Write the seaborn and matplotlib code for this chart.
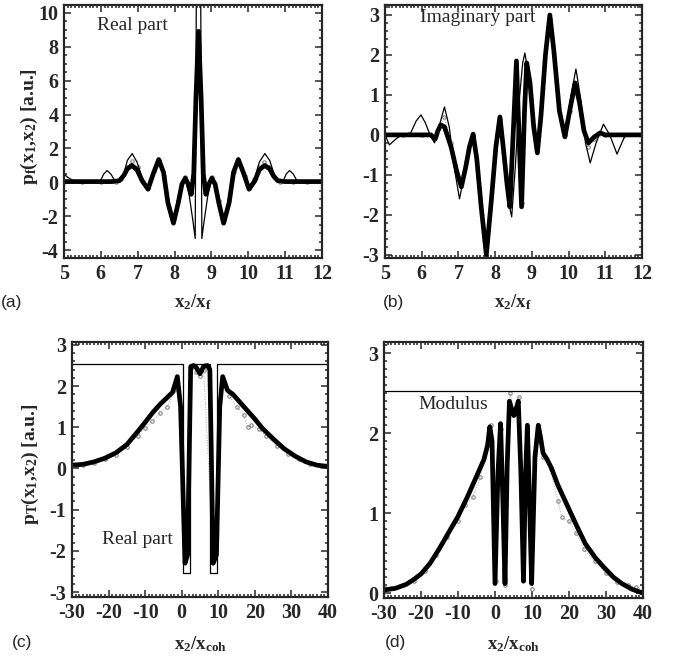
import matplotlib
matplotlib.use('Agg')
import matplotlib.pyplot as plt
import seaborn as sns
from matplotlib.ticker import AutoMinorLocator, MultipleLocator

# --- panel (a): real part, x2/xf ---
a_thick_x = [5.0, 6.3, 6.5, 6.62, 6.72, 6.84, 6.98, 7.12, 7.28, 7.42, 7.57, 7.7, 7.82, 7.97, 8.1, 8.2,
             8.29, 8.37, 8.45, 8.52, 8.58, 8.65, 8.72, 8.78, 8.85, 8.93, 9.01, 9.1, 9.2, 9.33, 9.48,
             9.6, 9.73, 9.88, 10.02, 10.18, 10.3, 10.45, 10.58, 10.68, 10.8, 11.0, 12.0]
a_thick_y = [0.05, 0.05, 0.1, 0.4, 0.8, 1.0, 0.75, 0.1, -0.4, 0.5, 1.35, 0.6, -1.2, -2.4, -1.2, -0.1,
             0.25, -0.1, -0.7, 0.5, 5.0, 8.9, 5.0, 0.5, -0.7, -0.1, 0.25, -0.1, -1.2, -2.4, -1.2,
             0.6, 1.35, 0.5, -0.4, 0.1, 0.75, 1.0, 0.8, 0.4, 0.1, 0.05, 0.05]
a_thin_x = [5.0, 5.1, 5.3, 5.9, 6.0, 6.08, 6.17, 6.27, 6.38, 6.5, 6.62, 6.72, 6.85, 6.98, 7.12, 7.28,
            7.42, 7.57, 7.7, 7.82, 7.97, 8.1, 8.2, 8.29, 8.4, 8.5, 8.56, 8.59, 8.71, 8.74, 8.8, 8.9,
            9.01, 9.1, 9.2, 9.33, 9.48, 9.6, 9.73, 9.88, 10.02, 10.18, 10.3, 10.45, 10.58, 10.7,
            10.82, 10.95, 11.03, 11.12, 11.22, 11.32, 11.45, 12.0]
a_thin_y = [0.5, 0.3, 0.05, 0.0, 0.15, 0.5, 0.7, 0.5, 0.1, 0.0, 0.5, 1.3, 1.7, 1.2, 0.3, -0.4,
            0.5, 1.4, 0.6, -1.2, -2.4, -1.2, -0.1, 0.25, -0.8, -2.3, -3.3, 10.8, 10.8, -3.3, -2.3, -0.8,
            0.25, -0.1, -1.2, -2.4, -1.2, 0.6, 1.4, 0.5, -0.4, 0.3, 1.2, 1.7, 1.3, 0.5,
            0.0, 0.1, 0.5, 0.7, 0.5, 0.1, 0.0, 0.0]
a_exp_x = [5.0, 5.5, 6.0, 6.4, 6.55, 6.7, 6.85, 7.0, 7.15, 7.28, 7.45, 7.57, 7.72, 7.85, 7.97, 8.1,
           8.28, 8.45, 8.65, 8.85, 9.02, 9.2, 9.33, 9.48, 9.6, 9.73, 9.9, 10.02, 10.15, 10.3, 10.42,
           10.55, 10.7, 10.85, 11.2, 11.6, 12.0]
a_exp_y = [0.05, 0.02, 0.05, 0.05, 0.2, 0.9, 1.25, 0.9, 0.0, -0.35, 0.7, 1.3, 0.4, -1.5, -2.3, -1.1,
           0.3, -0.6, 8.0, -0.6, 0.3, -1.1, -2.2, -1.0, 0.6, 1.3, 0.4, -0.35, 0.2, 0.9, 1.2,
           0.9, 0.3, 0.05, 0.05, 0.02, 0.05]

# --- panel (b): imaginary part, x2/xf ---
b_thick_x = [5.0, 6.25, 6.37, 6.44, 6.52, 6.62, 6.8, 6.95, 7.08, 7.2, 7.3, 7.4, 7.5, 7.62, 7.76, 7.9,
             8.02, 8.13, 8.22, 8.32, 8.4, 8.5, 8.58, 8.65, 8.72, 8.8, 8.86, 8.95, 9.05, 9.15, 9.25,
             9.37, 9.49, 9.6, 9.75, 9.9, 10.05, 10.18, 10.3, 10.42, 10.54, 10.7, 10.86, 11.0, 12.0]
b_thick_y = [0.0, 0.0, -0.1, 0.1, 0.25, 0.2, -0.3, -0.9, -1.3, -0.8, -0.3, 0.02, -0.6, -1.8, -3.0, -1.6,
             -0.3, 0.45, -0.3, -1.2, -1.8, 0.2, 1.85, 0.0, -1.8, 0.6, 1.8, 1.3, 0.2, -0.45, 0.5,
             2.0, 3.0, 2.1, 0.6, -0.05, 0.7, 1.3, 0.8, 0.1, -0.2, -0.05, 0.05, 0.0, 0.0]
b_thin_x = [5.0, 5.12, 5.3, 5.45, 5.7, 5.85, 5.98, 6.1, 6.25, 6.35, 6.5, 6.62, 6.75, 6.9, 7.03, 7.18,
            7.3, 7.4, 7.5, 7.62, 7.76, 7.9, 8.02, 8.13, 8.25, 8.35, 8.45, 8.55, 8.65, 8.75, 8.81,
            8.92, 9.05, 9.15, 9.25, 9.37, 9.49, 9.6, 9.75, 9.9, 10.05, 10.2, 10.33, 10.46, 10.59,
            10.75, 10.95, 11.12, 11.32, 11.45, 11.55, 12.0]
b_thin_y = [0.0, -0.25, -0.1, 0.0, 0.05, 0.35, 0.5, 0.3, -0.05, -0.2, 0.3, 0.7, 0.2, -0.9, -1.6, -0.9,
            -0.2, 0.0, -0.6, -1.8, -3.0, -1.6, -0.3, 0.45, -0.6, -1.6, -2.05, -0.8, 0.8, 1.8, 2.05,
            1.4, 0.2, -0.45, 0.5, 2.0, 3.0, 2.1, 0.6, -0.05, 0.9, 1.65, 0.9, -0.2, -0.7,
            -0.2, 0.27, 0.0, -0.48, -0.2, 0.0, 0.0]
b_exp_x = [5.0, 5.5, 6.0, 6.35, 6.5, 6.62, 6.8, 7.08, 7.4, 7.76, 8.13, 8.4, 8.58, 8.72, 8.86, 9.15,
           9.49, 9.9, 10.05, 10.2, 10.35, 10.54, 10.7, 11.0, 11.5, 12.0]
b_exp_y = [0.0, 0.0, 0.0, -0.05, 0.25, 0.45, -0.2, -1.2, 0.0, -2.9, 0.4, -1.7, 1.6, -1.7, 1.7, -0.4,
           2.9, 0.0, 0.6, 1.1, 0.5, -0.3, -0.1, 0.0, 0.0, 0.0]

# --- panel (c): real part, x2/xcoh ---
c_thick_x = [-30, -27, -24, -21, -18, -15, -12, -10, -8, -6, -4, -2.5, -1.2, -0.3, 0.9, 1.6, 2.45,
             3.2, 4.0, 5.0, 6.0, 7.0, 7.7, 8.6, 9.5, 10.4, 11.2, 12.5, 14, 16, 18, 20, 22, 25, 28,
             31, 34, 37, 40]
c_thick_y = [0.08, 0.1, 0.16, 0.25, 0.38, 0.58, 0.9, 1.12, 1.35, 1.55, 1.72, 1.85, 2.23, 1.5, -2.3,
             -2.1, 2.47, 2.5, 2.45, 2.3, 2.48, 2.5, 2.4, -2.3, -2.1, 1.5, 2.23, 1.9, 1.8, 1.6, 1.4,
             1.2, 0.98, 0.72, 0.48, 0.3, 0.16, 0.08, 0.05]
c_thin_x = [-30, 0.4, 0.4, 2.3, 2.3, 7.8, 7.8, 9.7, 9.7, 40]
c_thin_y = [2.53, 2.53, -2.53, -2.53, 2.53, 2.53, -2.53, -2.53, 2.53, 2.53]
c_exp_x = [-30, -27, -24, -21, -18, -15, -12, -10, -8, -6, -4, -2, -1.2, 0.9, 2.5, 4, 5, 6, 8.6,
           11.2, 13, 15, 17, 18, 19, 21, 23, 26, 29, 32, 35, 38, 40]
c_exp_y = [0.06, 0.08, 0.14, 0.22, 0.33, 0.52, 0.8, 0.98, 1.15, 1.35, 1.5, 1.9, 2.15, -2.1, 2.45,
           2.35, 2.25, 2.4, -2.1, 2.15, 1.75, 1.5, 1.3, 1.0, 1.05, 0.95, 0.8, 0.55, 0.35, 0.22, 0.12,
           0.06, 0.05]

# --- panel (d): modulus, x2/xcoh ---
d_thick_x = [-30, -27, -24, -22, -20, -17.6, -15, -12, -10, -7.5, -5, -3, -2, -1.4, -0.8, 0.0, 0.8,
             1.5, 2.1, 2.7, 3.3, 3.9, 4.5, 5.1, 5.7, 6.3, 7.0, 7.7, 8.2, 8.75, 9.3, 9.9, 10.8, 11.7,
             12.3, 13, 14, 15.3, 17, 18.5, 20, 22, 24.4, 27, 29.3, 32, 34.3, 37, 40]
d_thick_y = [0.04, 0.06, 0.11, 0.17, 0.24, 0.37, 0.56, 0.8, 0.96, 1.2, 1.46, 1.67, 1.85, 2.08, 1.9,
             0.12, 1.5, 2.12, 1.2, 0.12, 1.6, 2.4, 2.3, 2.22, 2.3, 2.4, 1.5, 0.15, 1.4, 2.1, 1.2,
             0.12, 1.7, 2.1, 1.95, 1.75, 1.68, 1.56, 1.35, 1.2, 1.05, 0.85, 0.62, 0.45, 0.33, 0.2,
             0.12, 0.05, 0.0]
d_thin_x = [-30, 40]
d_thin_y = [2.53, 2.53]
d_exp_x = [-30, -28, -25, -22, -19, -16, -13, -10, -8, -6, -4, -2, -1.2, 0.2, 1.5, 2.7, 4.0, 5.1,
           6.5, 7.7, 8.7, 10.0, 11.6, 13, 15, 17, 18, 20, 22, 24, 27, 30, 33, 36, 38, 40]
d_exp_y = [0.08, 0.06, 0.1, 0.15, 0.28, 0.48, 0.7, 0.9, 1.1, 1.2, 1.45, 1.9, 2.1, 0.15, 2.05, 0.1,
           2.5, 2.3, 2.45, 0.2, 2.0, 0.05, 2.0, 1.7, 1.55, 1.15, 0.95, 0.9, 0.75, 0.55, 0.4, 0.25,
           0.14, 0.1, 0.08, 0.03]

sns.set_theme(style='ticks')
plt.rcParams['font.family'] = ['Liberation Serif', 'DejaVu Serif']
plt.rcParams['mathtext.fontset'] = 'custom'
plt.rcParams['mathtext.rm'] = 'Liberation Serif'
plt.rcParams['mathtext.it'] = 'Liberation Serif:italic'
plt.rcParams['mathtext.bf'] = 'Liberation Serif:bold'

W, H = 677, 664
fig = plt.figure(figsize=(W / 100, H / 100), dpi=100)


def add_axes(l, t, r, b):
    return fig.add_axes([l / W, 1 - b / H, (r - l) / W, (b - t) / H])


ax_a = add_axes(64, 5, 322, 258)
ax_b = add_axes(385, 5, 642, 258)
ax_c = add_axes(72, 342, 328, 597)
ax_d = add_axes(384, 342, 643, 598)

panels = [
    (ax_a, a_thick_x, a_thick_y, a_thin_x, a_thin_y, a_exp_x, a_exp_y),
    (ax_b, b_thick_x, b_thick_y, b_thin_x, b_thin_y, b_exp_x, b_exp_y),
    (ax_c, c_thick_x, c_thick_y, c_thin_x, c_thin_y, c_exp_x, c_exp_y),
    (ax_d, d_thick_x, d_thick_y, d_thin_x, d_thin_y, d_exp_x, d_exp_y),
]

for ax, tx, ty, nx, ny, ex, ey in panels:
    # experimental points (grey), theory (thin), fit (thick)
    sns.lineplot(x=ex, y=ey, ax=ax, sort=False, estimator=None, color='0.65', lw=0.7,
                 linestyle=':', marker='o', markersize=2.5, markerfacecolor='none',
                 markeredgecolor='0.5')
    sns.lineplot(x=tx, y=ty, ax=ax, sort=False, estimator=None, color='black', lw=3.4)
    sns.lineplot(x=nx, y=ny, ax=ax, sort=False, estimator=None, color='black', lw=0.9)
    ax.tick_params(which='both', direction='in', top=True, right=True, width=1.1, pad=4)
    ax.tick_params(which='major', length=5)
    ax.tick_params(which='minor', length=2.5)
    for sp in ax.spines.values():
        sp.set_linewidth(1.6)
        sp.set_visible(True)
    ax.set_xlabel('')
    ax.set_ylabel('')

limits = [
    (ax_a, (5, 12), (-4.45, 10.45), 1, 2, 4),
    (ax_b, (5, 12), (-3.08, 3.25), 1, 1, 5),
    (ax_c, (-30, 40), (-3.12, 3.07), 10, 1, 5),
    (ax_d, (-30, 40), (-0.06, 3.14), 10, 1, 10),
]
for ax, xl, yl, xs, ys, ym in limits:
    ax.xaxis.set_major_locator(MultipleLocator(xs))
    ax.yaxis.set_major_locator(MultipleLocator(ys))
    ax.xaxis.set_minor_locator(AutoMinorLocator(10))
    ax.yaxis.set_minor_locator(AutoMinorLocator(ym))
    ax.set_xlim(*xl)
    ax.set_ylim(*yl)
    xt = [v for v in ax.get_xticks() if xl[0] - 1e-9 <= v <= xl[1] + 1e-9]
    yt = [v for v in ax.get_yticks() if yl[0] - 1e-9 <= v <= yl[1] + 1e-9]
    ax.set_xticks(xt)
    ax.set_xticklabels([f'{int(round(v))}' for v in xt], fontweight='bold', fontsize=14.5)
    ax.set_yticks(yt)
    ax.set_yticklabels([f'{int(round(v))}' for v in yt], fontweight='bold', fontsize=14.5)
    ax.set_xlim(*xl)
    ax.set_ylim(*yl)

# in-panel captions
ax_a.text(0.128, 0.92, 'Real part', transform=ax_a.transAxes, fontsize=14, va='center')
ax_b.text(0.136, 0.95, 'Imaginary part', transform=ax_b.transAxes, fontsize=14, va='center')
ax_c.text(0.117, 0.224, 'Real part', transform=ax_c.transAxes, fontsize=14, va='center')
ax_d.text(0.131, 0.754, 'Modulus', transform=ax_d.transAxes, fontsize=14, va='center')

# axis labels
xl_f = r'x$_\mathbf{2}$/x$_\mathbf{f}$'
xl_coh = r'x$_\mathbf{2}$/x$_\mathbf{coh}$'
for txt, x, y in [(xl_f, 193, 302), (xl_f, 513, 302), (xl_coh, 200, 644), (xl_coh, 513, 644)]:
    fig.text(x / W, 1 - y / H, txt, ha='center', va='center', fontsize=13.5, fontweight='bold')
fig.text(29 / W, 1 - 127 / H, r'p$_\mathbf{f}$(x$_\mathbf{1}$,x$_\mathbf{2}$) [a.u.]',
         rotation=90, ha='center', va='center', fontsize=14, fontweight='bold')
fig.text(30 / W, 1 - 464 / H, r'p$_\mathbf{T}$(x$_\mathbf{1}$,x$_\mathbf{2}$) [a.u.]',
         rotation=90, ha='center', va='center', fontsize=14, fontweight='bold')

# panel letters
for lab, x, y in [('(a)', 1, 302), ('(b)', 383, 302), ('(c)', 12, 642), ('(d)', 385, 642)]:
    fig.text(x / W, 1 - y / H, lab, ha='left', va='center', fontsize=12.5,
             family=['Liberation Sans', 'DejaVu Sans'])

fig.savefig('out.png', dpi=100)
